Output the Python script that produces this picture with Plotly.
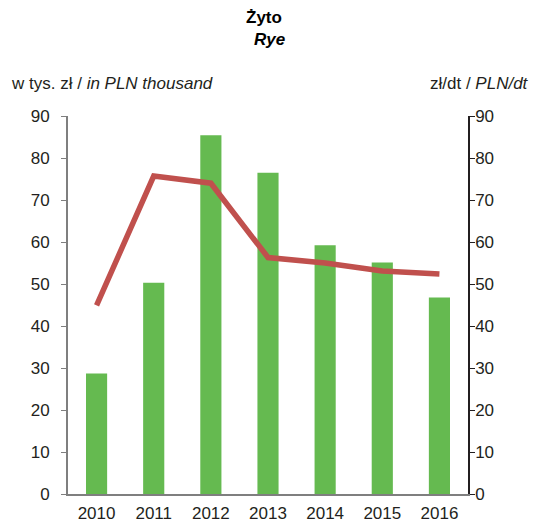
import plotly.graph_objects as go

years = ["2010", "2011", "2012", "2013", "2014", "2015", "2016"]
value_pln_thousand = [28.7, 50.3, 85.4, 76.5, 59.2, 55.1, 46.8]
price_pln_dt = [44.9, 75.7, 74.0, 56.3, 55.0, 53.1, 52.4]
tick_vals = [0, 10, 20, 30, 40, 50, 60, 70, 80, 90]

FONT = "Liberation Sans, Arial, sans-serif"
TXT = "#231f20"

W, H = 533, 524
ML, MR, MT, MB = 68, 65, 116, 30
pw = W - ML - MR
ph = H - MT - MB


def px_x(sx):
    return (sx - ML) / pw


def px_y(sy):
    return (H - MB - sy) / ph


fig = go.Figure()
fig.add_trace(go.Bar(x=years, y=value_pln_thousand, marker=dict(color="#65BA50", line=dict(width=0)),
                     yaxis="y", showlegend=False))
fig.add_trace(go.Scatter(x=years, y=price_pln_dt, mode="lines", line=dict(color="#C0504D", width=5.5),
                         yaxis="y2", showlegend=False))

fig.update_layout(
    width=W, height=H,
    margin=dict(l=ML, r=MR, t=MT, b=MB, autoexpand=False),
    paper_bgcolor="white", plot_bgcolor="white",
    font=dict(family=FONT, size=17, color=TXT),
    bargap=0.63,
    xaxis=dict(type="category", range=[-0.5, 6.5], showline=True, linecolor="#7f7f7f", linewidth=2,
               ticks="", showgrid=False, zeroline=False, tickfont=dict(size=17, color=TXT),
               ticklabelstandoff=3, automargin=False),
    yaxis=dict(range=[0, 90], tickvals=tick_vals, showline=True, linecolor="#7f7f7f", linewidth=2,
               ticks="outside", ticklen=5, tickcolor="#7f7f7f", tickwidth=1, showgrid=False,
               zeroline=False, tickfont=dict(size=17, color=TXT), ticklabelstandoff=8,
               automargin=False),
    yaxis2=dict(range=[0, 90], tickvals=tick_vals, overlaying="y", side="right", showline=True,
                linecolor="#231f20", linewidth=1.5, ticks="outside", ticklen=5, tickcolor="#231f20",
                showgrid=False, zeroline=False, tickfont=dict(size=17, color=TXT), ticklabelstandoff=-3,
                automargin=False),
    annotations=[
        dict(text="<b>Żyto</b>", x=px_x(264), y=px_y(18), xref="paper", yref="paper",
             xanchor="center", yanchor="middle", showarrow=False,
             font=dict(size=17, color="black", family=FONT)),
        dict(text="<b><i>Rye</i></b>", x=px_x(269), y=px_y(40), xref="paper", yref="paper",
             xanchor="center", yanchor="middle", showarrow=False,
             font=dict(size=17, color="black", family=FONT)),
        dict(text="w tys. zł / <i>in PLN thousand</i>", x=px_x(9), y=px_y(83), xref="paper", yref="paper",
             xanchor="left", yanchor="middle", showarrow=False,
             font=dict(size=17, color=TXT, family=FONT)),
        dict(text="zł/dt / <i>PLN/dt</i>", x=px_x(531), y=px_y(83), xref="paper", yref="paper",
             xanchor="right", yanchor="middle", showarrow=False,
             font=dict(size=17, color=TXT, family=FONT)),
    ],
)

fig.write_html(
    "out.html",
    config={"displayModeBar": False},
    post_script="document.body.style.margin='0';document.body.style.overflow='hidden';",
)
